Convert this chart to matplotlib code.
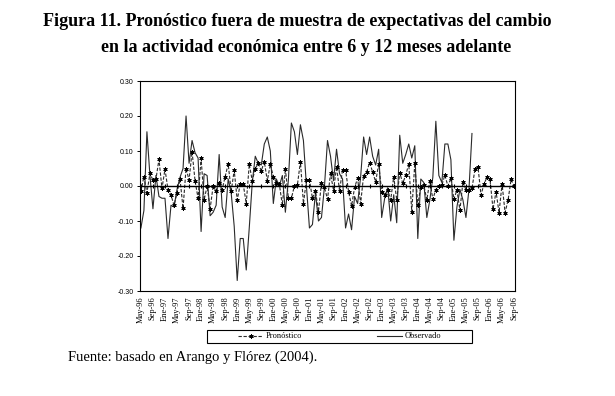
import numpy as np
import matplotlib
matplotlib.use('Agg')
import matplotlib.pyplot as plt
from matplotlib.patches import Rectangle

# observed change in economic activity (May-96 .. Jul-05), monthly
observado = [
    -0.12, -0.07, 0.155, 0.03, -0.065, 0.03, -0.03, -0.035, -0.035, -0.15,
    -0.055, -0.06, -0.01, 0.025, 0.05, 0.2, 0.065, 0.13, 0.095, 0.08,
    -0.13, 0.035, 0.03, -0.085, -0.075, -0.055, 0.09, -0.06, -0.09, 0.02,
    -0.02, -0.115, -0.27, -0.15, -0.15, -0.24, -0.12, 0.01, 0.085, 0.065,
    0.06, 0.12, 0.14, 0.1, -0.05, 0.02, 0.0, 0.03, -0.075, 0.017,
    0.18, 0.155, 0.09, 0.175, 0.13, 0.0, -0.12, -0.11, -0.02, -0.10,
    -0.09, 0.0, 0.13, 0.085, 0.015, 0.105, 0.035, 0.02, -0.12, -0.08,
    -0.125, -0.03, -0.05, 0.025, 0.14, 0.09, 0.14, 0.085, 0.06, 0.105,
    -0.09, -0.035, -0.005, -0.10, -0.025, -0.105, 0.145, 0.065, 0.09, 0.12,
    0.08, 0.115, -0.15, 0.02, 0.01, -0.09, -0.04, 0.025, 0.185, 0.03,
    0.01, 0.12, 0.12, 0.075, -0.155, -0.06, -0.01, -0.04, -0.09, -0.01,
    0.15]

# out of sample forecast (May-96 .. Sep-06)
pronostico = [
    -0.015, 0.027, -0.02, 0.036, 0.017, 0.02, 0.076, -0.007, 0.048, -0.01,
    -0.026, -0.055, -0.02, 0.02, -0.064, 0.05, 0.017, 0.098, 0.014, -0.035,
    0.079, -0.04, 0.0, -0.065, 0.0, -0.015, 0.01, -0.01, 0.027, 0.063,
    -0.015, 0.045, -0.04, 0.005, 0.005, -0.05, 0.062, 0.015, 0.05, 0.065,
    0.043, 0.07, 0.015, 0.062, 0.027, 0.01, 0.005, -0.055, 0.05, -0.035,
    -0.035, 0.0, 0.003, 0.07, -0.05, 0.017, 0.017, -0.035, -0.013, -0.073,
    0.01, -0.004, -0.038, 0.036, -0.013, 0.055, -0.013, 0.046, 0.046, -0.016,
    -0.057, -0.004, 0.022, -0.05, 0.03, 0.04, 0.067, 0.04, 0.012, 0.063,
    -0.016, -0.026, -0.011, -0.04, 0.027, -0.04, 0.038, 0.008, 0.031, 0.063,
    -0.073, 0.065, -0.054, -0.002, 0.003, -0.04, 0.015, -0.038, -0.01, 0.0,
    0.003, 0.031, 0.0, 0.022, -0.038, -0.011, -0.069, 0.012, -0.011, -0.011,
    -0.007, 0.048, 0.055, -0.026, 0.006, 0.025, 0.019, -0.067, -0.016, -0.076,
    0.006, -0.076, -0.04, 0.019, 0.0]

etiquetas = ['May-96', 'Sep-96', 'Ene-97', 'May-97', 'Sep-97', 'Ene-98', 'May-98',
             'Sep-98', 'Ene-99', 'May-99', 'Sep-99', 'Ene-00', 'May-00', 'Sep-00',
             'Ene-01', 'May-01', 'Sep-01', 'Ene-02', 'May-02', 'Sep-02', 'Ene-03',
             'May-03', 'Sep-03', 'Ene-04', 'May-04', 'Sep-04', 'Ene-05', 'May-05',
             'Sep-05', 'Ene-06', 'May-06', 'Sep-06']
y_ticks = [-0.30, -0.20, -0.10, 0.00, 0.10, 0.20, 0.30]

serif = ['Liberation Serif', 'DejaVu Serif']
sans = ['Liberation Sans', 'DejaVu Sans']

fig = plt.figure(figsize=(6.15, 3.96), dpi=100)
ax = fig.add_axes([140/615, 1-291/396, 375/615, 210/396])

t_obs = np.arange(len(observado))
t_fc = np.arange(len(pronostico))
tick_pos = np.arange(len(etiquetas)) * 4

ax.plot(t_obs, observado, color='#2a2a2a', lw=0.8, label='Observado')
ax.plot(t_fc, pronostico, color='#2a2a2a', lw=0.8, ls=(0, (3, 1.5)),
        marker=(6, 2, 0), ms=3, mec='black', mew=0.7, label='Pronóstico')

ax.axhline(0, color='black', lw=1.0, zorder=3)
ax.plot(tick_pos, np.zeros(len(tick_pos)), ls='none', marker='|', ms=3,
        mew=0.8, color='black', zorder=3)

ax.set_xlim(-0.3, len(pronostico) - 0.7)
ax.set_ylim(-0.30, 0.30)
ax.set_yticks(y_ticks)
ax.set_yticklabels([f'{v:.2f}' for v in y_ticks], family=sans, fontsize=5)
ax.set_xticks(tick_pos)
ax.set_xticklabels(etiquetas, rotation=90, family=serif, fontsize=6)
ax.tick_params(axis='x', length=0, pad=4)
ax.tick_params(axis='y', length=2.5, width=0.7, pad=2)
for s in ax.spines.values():
    s.set_linewidth(0.8)

fig.text(297/615, 1-22/396, 'Figura 11. Pronóstico fuera de muestra de expectativas del cambio',
         ha='center', va='center', family=serif, weight='bold', fontsize=13)
fig.text(306/615, 1-47/396, 'en la actividad económica entre 6 y 12 meses adelante',
         ha='center', va='center', family=serif, weight='bold', fontsize=13)

# legend box
fig.patches.append(Rectangle((207/615, 1-343/396), 265/615, 13/396,
                             transform=fig.transFigure, fill=False,
                             edgecolor='black', lw=0.8))
h, l = ax.get_legend_handles_labels()
fig.legend([h[1], h[0]], [l[1], l[0]], loc='center', ncol=2,
           bbox_to_anchor=(339.5/615, 1-336.5/396), frameon=False,
           prop={'family': serif, 'size': 6}, handlelength=3.0,
           handletextpad=0.3, columnspacing=9, numpoints=1)

fig.text(68/615, 1-357/396, 'Fuente: basado en Arango y Flórez (2004).',
         ha='left', va='center', family=serif, fontsize=10.5)

fig.savefig('out.png', dpi=100)
